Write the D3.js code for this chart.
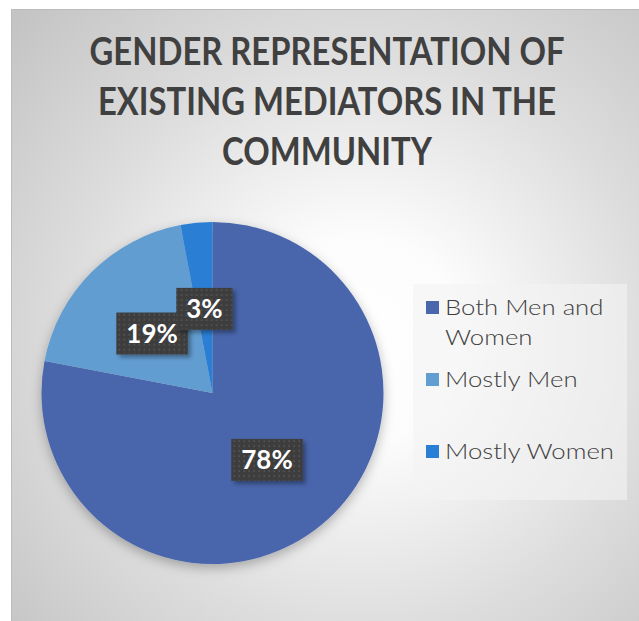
<!DOCTYPE html>
<html>
<head>
<meta charset="utf-8">
<script src="https://cdn.jsdelivr.net/npm/d3@7"></script>
<style>
  html, body { margin: 0; padding: 0; background: #ffffff; overflow: hidden; }
  svg { display: block; }
</style>
</head>
<body>
<svg id="chart" width="639" height="621"></svg>
<script>
// ---- data ----
const categories = ["Both Men and Women", "Mostly Men", "Mostly Women"];
const legendLines = [["Both Men and", "Women"], ["Mostly Men"], ["Mostly Women"]];
const percentages = [78, 19, 3];
const sliceColors = ["#4a66ac", "#629dd1", "#297fd5"];
const titleLines = ["GENDER REPRESENTATION OF", "EXISTING MEDIATORS IN THE", "COMMUNITY"];

// ---- layout ----
const W = 639, H = 621;
const frame = { x: 11, y: 9 };
const pieCenter = { x: 212.5, y: 393 };
const radius = 171;
const titleX = 327, titleBaseline0 = 65, titleLineGap = 50, titleWidth = 475;
const legendBox = { x0: 413, x1: 627, y0: 284, y1: 500 };
const textColor = "#404040";
const fontFamily = "Lato, 'Open Sans', 'DejaVu Sans', sans-serif";

const svg = d3.select("#chart");
const defs = svg.append("defs");

// chart-area background: soft radial grey
const bg = defs.append("radialGradient").attr("id", "bgGrad")
  .attr("gradientUnits", "userSpaceOnUse")
  .attr("cx", 360).attr("cy", 340).attr("r", 470);
[[0, "#ffffff"], [0.22, "#fcfcfc"], [0.62, "#dddddd"], [1, "#c4c4c4"]]
  .forEach(([o, c]) => bg.append("stop").attr("offset", o).attr("stop-color", c));

// soft shadow under the pie
const pieShadow = defs.append("filter").attr("id", "pieShadow")
  .attr("x", "-20%").attr("y", "-20%").attr("width", "140%").attr("height", "140%");
pieShadow.append("feDropShadow").attr("dx", 0).attr("dy", 4).attr("stdDeviation", 6)
  .attr("flood-color", "#000").attr("flood-opacity", 0.28);

// shadow for the data-label boxes
const labelShadow = defs.append("filter").attr("id", "labelShadow")
  .attr("x", "-30%").attr("y", "-30%").attr("width", "160%").attr("height", "160%");
labelShadow.append("feDropShadow").attr("dx", 3).attr("dy", 3).attr("stdDeviation", 2)
  .attr("flood-color", "#000").attr("flood-opacity", 0.35);

// dotted dark fill for the data labels
const dots = defs.append("pattern").attr("id", "dots")
  .attr("patternUnits", "userSpaceOnUse").attr("width", 5).attr("height", 5);
dots.append("rect").attr("width", 5).attr("height", 5).attr("fill", "#3e3e3e");
dots.append("rect").attr("x", 1.5).attr("y", 1.5).attr("width", 1.5).attr("height", 1.5).attr("fill", "#575757");

// chart frame
svg.append("rect")
  .attr("x", frame.x + 0.5).attr("y", frame.y + 0.5)
  .attr("width", W - frame.x + 5).attr("height", H - frame.y + 5)
  .attr("fill", "url(#bgGrad)").attr("stroke", "#bcbcbc").attr("stroke-width", 1);

// ---- title ----
// each line is centred, then narrowed horizontally so the widest line spans titleWidth
const titleG = svg.append("g").attr("fill", textColor)
  .attr("font-family", fontFamily).attr("font-weight", 700).attr("font-size", 38.5);
const titleRows = titleG.selectAll("g").data(titleLines).join("g");
const titleNodes = titleRows.append("text")
  .attr("text-anchor", "middle")
  .text(d => d);
const titleScale = titleWidth / titleNodes.nodes()[0].getComputedTextLength();
titleRows.attr("transform", (d, i) =>
  `translate(${titleX},${titleBaseline0 + i * titleLineGap}) scale(${titleScale},1)`);

// ---- pie ----
const pie = d3.pie().sort(null).value(d => d);
const arcs = pie(percentages);
const arc = d3.arc().innerRadius(0).outerRadius(radius);
const color = d3.scaleOrdinal().domain(categories).range(sliceColors);

const pieG = svg.append("g")
  .attr("transform", `translate(${pieCenter.x},${pieCenter.y})`);
pieG.append("g").attr("filter", "url(#pieShadow)")
  .selectAll("path").data(arcs).join("path")
  .attr("d", arc)
  .attr("fill", (d, i) => color(categories[i]));

// data labels at the slice centroids
const labels = pieG.append("g")
  .selectAll("g").data(arcs).join("g")
  .attr("transform", d => `translate(${arc.centroid(d)})`);
const labelRects = labels.append("rect")
  .attr("fill", "url(#dots)").attr("filter", "url(#labelShadow)");
const labelTexts = labels.append("text")
  .attr("text-anchor", "middle")
  .attr("y", 10.5)
  .attr("fill", "#ffffff")
  .attr("font-family", fontFamily).attr("font-weight", 700).attr("font-size", 26)
  .text(d => `${d.data}%`);
labelTexts.each(function (d, i) {
  const w = this.getComputedTextLength();
  d3.select(labelRects.nodes()[i])
    .attr("x", -w / 2 - 10).attr("y", -20)
    .attr("width", w + 20).attr("height", 42);
});

// ---- legend ----
svg.append("rect")
  .attr("x", legendBox.x0).attr("y", legendBox.y0)
  .attr("width", legendBox.x1 - legendBox.x0).attr("height", legendBox.y1 - legendBox.y0)
  .attr("fill", "#f4f4f4").attr("fill-opacity", 0.6);

const slot = d3.scaleBand().domain(categories).range([legendBox.y0, legendBox.y1]);
const legend = svg.append("g").selectAll("g").data(categories).join("g")
  .attr("transform", d => `translate(0,${slot(d)})`);
legend.append("rect")
  .attr("x", legendBox.x0 + 13).attr("y", 17)
  .attr("width", 13).attr("height", 13)
  .attr("fill", d => color(d));
// legend labels are widened a little to the proportions of a geometric face
const legendTextG = legend.append("g");
const legendText = legendTextG.append("text")
  .attr("fill", textColor)
  .attr("font-family", fontFamily).attr("font-weight", 300).attr("font-size", 22);
legendText.selectAll("tspan").data((d, i) => legendLines[i]).join("tspan")
  .attr("x", 0)
  .attr("y", (d, j) => 31 + j * 30)
  .text(d => d);
const refSpan = legendText.filter((d, i) => i === 2).select("tspan").node();
const legendScale = 169 / refSpan.getComputedTextLength();
legendTextG.attr("transform", `translate(${legendBox.x0 + 32},0) scale(${legendScale},1)`);
</script>
</body>
</html>
